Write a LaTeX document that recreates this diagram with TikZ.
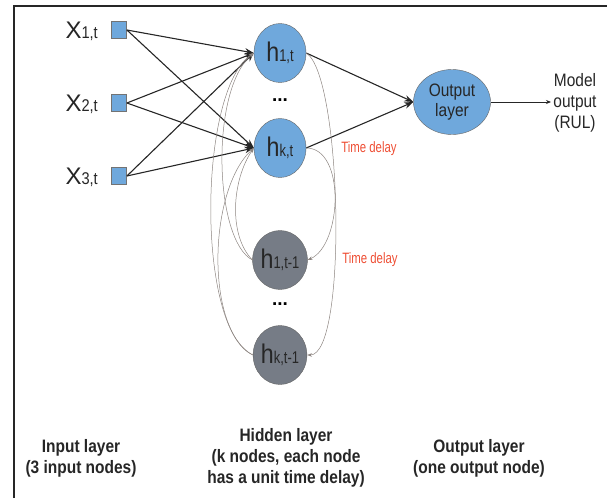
\documentclass[tikz,border=0pt]{standalone}
\usepackage{fontspec}
\setmainfont{Liberation Sans}
\newfontfamily\narrowfont{Liberation Sans}[FakeStretch=0.86]
\newfontfamily\slimfont{Liberation Sans}[FakeStretch=0.76]
\usetikzlibrary{arrows.meta,shapes.geometric}
\definecolor{nodeblue}{RGB}{111,168,220}
\definecolor{nodegray}{RGB}{118,124,134}
\definecolor{delayred}{RGB}{238,78,52}
\definecolor{delaygray}{RGB}{140,132,128}
\newcommand{\hlab}[1]{{\narrowfont\fontsize{27}{27}\selectfont h}{\slimfont\fontsize{17}{17}\selectfont #1}}
\newcommand{\xlab}[1]{{\fontsize{24}{24}\selectfont X}{\narrowfont\fontsize{17}{17}\selectfont #1}}

\begin{document}
\begin{tikzpicture}[x=1pt, y=-1pt,
  inbox/.style={draw=gray!90!black, fill=nodeblue, minimum width=15pt, minimum height=17pt, inner sep=0pt, line width=0.8pt},
  inlabel/.style={anchor=east, inner sep=0pt, text=black!85},
  hnow/.style={ellipse, draw=gray!80!black, fill=nodeblue, minimum width=52pt, minimum height=59pt, inner sep=0pt, text=black!85},
  hprev/.style={hnow, fill=nodegray},
  outnode/.style={ellipse, draw=gray!80!black, fill=nodeblue, minimum width=77pt, minimum height=65pt, inner sep=0pt, align=center, text=black!85, font=\narrowfont\fontsize{18}{20}\selectfont},
  dots/.style={inner sep=0pt, font=\bfseries\fontsize{19}{19}\selectfont},
  link/.style={-{Stealth[length=9pt,width=6.5pt]}, line width=1.1pt, draw=black!85},
  delay/.style={-{Stealth[length=5pt,width=3.5pt]}, line width=0.5pt, draw=delaygray},
  delaytext/.style={text=delayred, font=\slimfont\fontsize{15}{15}\selectfont},
  caption/.style={align=center, text=black!85, font=\narrowfont\bfseries\fontsize{18}{21}\selectfont}
]
\useasboundingbox (0,0) rectangle (607,498);
\draw[line width=2pt, black!85] (14,498) -- (14,6) -- (607,6);

\node[inbox] (x1) at (119,30) {};
\node[inbox] (x2) at (119,103) {};
\node[inbox] (x3) at (119,176) {};
\node[inlabel] (lx1) at (98,31) {\xlab{1,t}};
\node[inlabel] (lx2) at (98,104) {\xlab{2,t}};
\node[inlabel] (lx3) at (98,177) {\xlab{3,t}};

\node[hnow] (h1) at (280,53) {\hlab{1,t}};
\node[dots] (d1) at (280,100) {...};
\node[hnow] (hk) at (280,148) {\hlab{k,t}};
\node[hprev] (h1p) at (280,260) {\hlab{1,t-1}};
\node[dots] (d2) at (280,304) {...};
\node[hprev] (hkp) at (280,355) {\hlab{k,t-1}};

\node[outnode] (out) at (452,102) {Output\\layer};
\node[align=center, text=black!85, font=\narrowfont\fontsize{18}{21}\selectfont] (model) at (575,103) {Model\\output\\(RUL)};
\coordinate (mo) at (551,102);

\foreach \i in {1,2,3}
  \foreach \h in {h1,hk}
    \draw[link] (x\i.east) -- (\h.west);
\draw[link] (h1.east) -- (out.west);
\draw[link] (hk.east) -- (out.west);
\draw[-{Stealth[length=5pt,width=4pt]}, line width=0.8pt, black!85] (out.east) -- (mo);

\draw[delay] (hk.east) .. controls (346,148) and (342,245) .. (h1p.east);
\draw[delay] (h1.east) .. controls (342,75) and (348,355) .. (hkp.east);
\draw[delay] (h1p.west) .. controls (228,235) and (232,180) .. (hk.west);
\draw[delay] (h1p.west) .. controls (214,240) and (210,90) .. (h1.west);
\draw[delay] (hkp.west) .. controls (205,330) and (208,190) .. (hk.west);
\draw[delay] (hkp.west) .. controls (196,330) and (198,90) .. (h1.west);

\node[delaytext] (td1) at (369,149) {Time delay};
\node[delaytext] (td2) at (370,260) {Time delay};

\node[caption] (capin) at (81,458) {Input layer\\(3 input nodes)};
\node[caption] (caphid) at (286,458) {Hidden layer\\(k nodes, each node\\has a unit time delay)};
\node[caption] (capout) at (479,458) {Output layer\\(one output node)};
\end{tikzpicture}
\end{document}
